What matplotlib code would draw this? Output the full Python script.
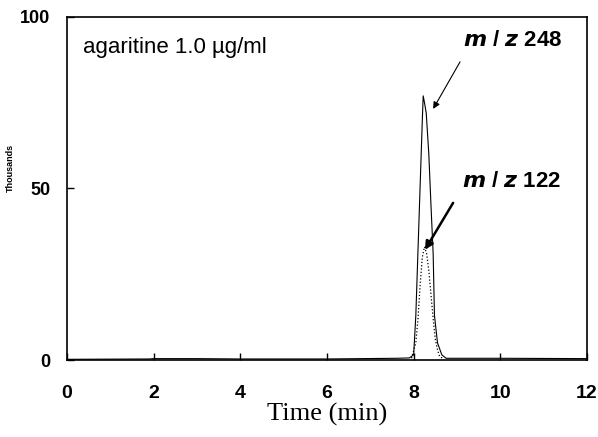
import matplotlib.pyplot as plt

# m/z 248 trace (time in min, intensity in thousands)
t_248 = [0, 1.9, 2.0, 3.0, 4.0, 6.0, 7.6, 7.9, 8.0, 8.05, 8.1, 8.15, 8.2, 8.22,
         8.25, 8.29, 8.35, 8.4, 8.45, 8.48, 8.55, 8.65, 8.75, 10, 12]
i_248 = [0.2, 0.3, 0.4, 0.4, 0.3, 0.3, 0.5, 0.6, 1.5, 13, 32, 51, 70, 77,
         75, 72, 60, 45, 31, 13, 5, 1.5, 0.5, 0.5, 0.4]

# m/z 122 trace
t_122 = [7.95, 8.05, 8.1, 8.15, 8.2, 8.25, 8.3, 8.35, 8.4, 8.45, 8.5, 8.55, 8.6, 8.7]
i_122 = [0.5, 5, 12, 22, 30, 33, 31, 26, 19, 12, 6, 3, 1, 0.3]

x_ticks = [0, 2, 4, 6, 8, 10, 12]
y_ticks = [0, 50, 100]

fig = plt.figure(figsize=(5.98, 4.37), dpi=100)
ax = fig.add_axes([0.112, 0.1762, 0.8696, 0.785])

ax.plot(t_248, i_248, color="black", lw=0.8)
ax.plot(t_122, i_122, color="black", lw=0.9, ls=":")

ax.set_xlim(0, 12)
ax.set_ylim(0, 100)
ax.set_xticks(x_ticks)
ax.set_yticks(y_ticks)
ax.tick_params(direction="in", length=5, width=1)
ax.tick_params(axis="x", pad=18)
ax.tick_params(axis="y", pad=12)
for lab in ax.get_yticklabels():
    lab.set_fontfamily("Liberation Sans")
    lab.set_fontweight("bold")
    lab.set_fontsize(13)
for lab in ax.get_xticklabels():
    lab.set_fontfamily("Liberation Sans")
    lab.set_fontweight("bold")
    lab.set_fontsize(14)
for s in ax.spines.values():
    s.set_linewidth(1.2)

ax.set_xlabel("Time (min)", family="Liberation Serif", fontsize=19, labelpad=1)
ax.set_ylabel("Thousands", family="Liberation Sans", fontsize=6.5, fontweight="bold")
ax.yaxis.set_label_coords(-0.1, 0.56)

ax.text(0.37, 91, "agaritine 1.0 \u00b5g/ml", family="Liberation Sans", fontsize=16,
        va="center")

ax.text(9.14, 93, r"$\mathbfit{m}$ / $\mathbfit{z}$ 248", family="Liberation Sans",
        fontsize=16, fontweight="bold", va="center")
ax.text(9.12, 52, r"$\mathbfit{m}$ / $\mathbfit{z}$ 122", family="Liberation Sans",
        fontsize=16, fontweight="bold", va="center")

ax.annotate("", xy=(8.45, 73.2), xytext=(9.07, 86.9),
            arrowprops=dict(arrowstyle="-|>", color="black", lw=0.8,
                            mutation_scale=10, shrinkA=0, shrinkB=0))
ax.annotate("", xy=(8.26, 32.1), xytext=(8.91, 45.8),
            arrowprops=dict(arrowstyle="-|>", color="black", lw=1.8,
                            mutation_scale=12, shrinkA=0, shrinkB=0))

plt.savefig("out.png", dpi=100)
